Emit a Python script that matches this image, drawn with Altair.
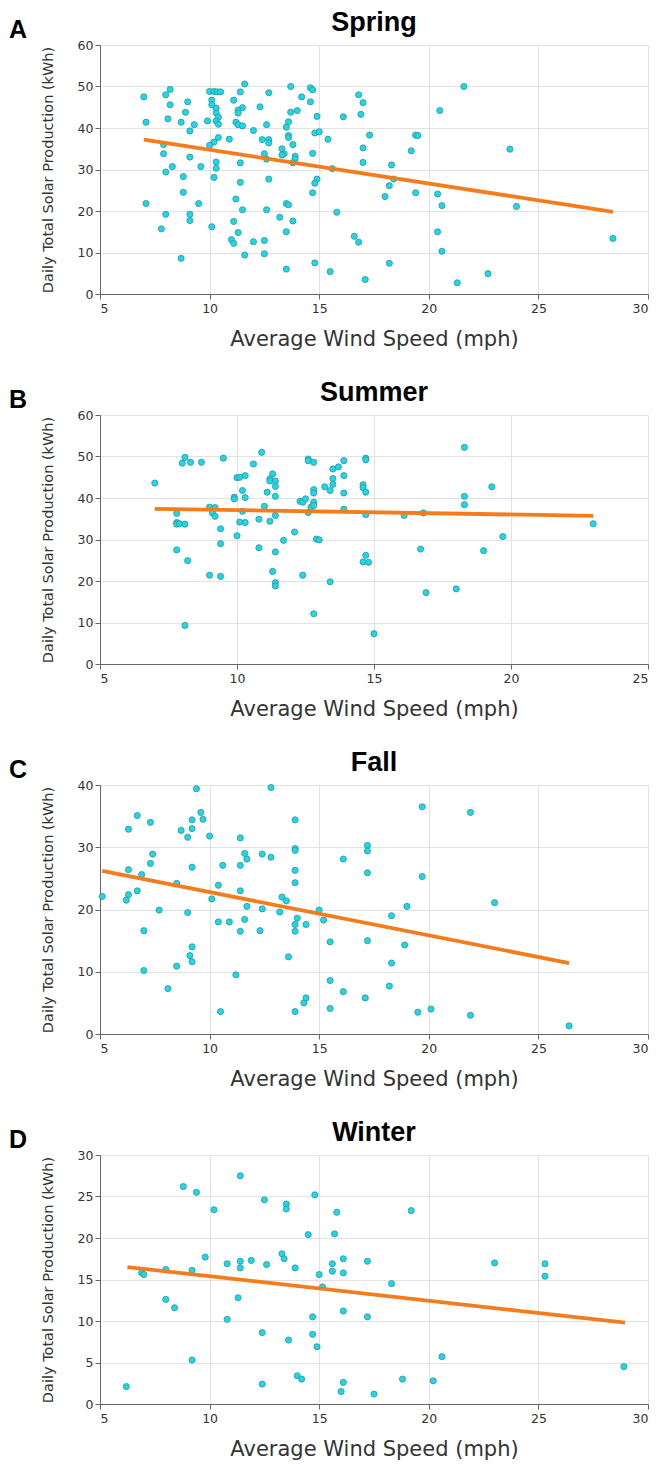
import altair as alt
import pandas as pd

seasons = ["Spring", "Summer", "Fall", "Winter"]
panel_letters = ["A", "B", "C", "D"]

spring_wind = [7.0, 7.1, 7.1, 8.2, 8.0, 8.2, 8.1, 7.9, 7.9, 8.3, 8.0, 8.0, 7.8, 8.7, 9.0, 8.9, 8.7, 9.3, 9.1, 9.1, 8.8, 9.6, 8.8, 9.5, 9.1, 9.1,
               10.0, 10.2, 10.35, 10.5, 10.1, 10.1, 10.3, 10.3, 10.4, 10.3, 9.9, 10.4, 10.4, 10.2, 10.0, 10.3, 10.3, 10.2, 10.1, 10.9,
               11.6, 11.4, 11.1, 11.5, 11.3, 11.3, 11.2, 11.3, 11.5, 11.4, 11.4, 11.2, 11.5, 11.1, 11.3, 11.0, 11.1, 11.6,
               12.0, 12.3, 12.7, 12.4, 12.6, 12.7, 12.7, 12.5, 12.6, 12.7, 12.6, 12.0, 12.5, 12.5, 13.2,
               13.7, 13.7, 14.0, 14.2, 13.6, 13.5, 13.6, 13.6, 13.8, 13.3, 13.4, 13.3, 13.9, 13.9, 13.8, 13.5, 13.6, 13.8, 13.5, 13.5,
               14.6, 14.7, 14.6, 14.9, 14.8, 15.0, 14.7, 14.9, 14.8, 14.7, 14.8, 15.4, 15.6, 15.5, 15.8, 16.1, 16.8, 17.0, 16.9, 17.0, 17.3, 17.0, 16.6, 16.8, 17.1,
               18.3, 18.2, 18.0, 18.4, 18.2, 19.2, 19.4, 19.5, 19.4, 20.5, 20.4, 20.6, 20.4, 20.6, 21.6, 21.3, 22.7, 23.7, 24.0, 28.4]
spring_solar = [47.5, 41.4, 21.8, 49.3, 48.0, 45.6, 42.2, 36.0, 33.8, 30.7, 29.4, 19.2, 15.7, 8.6, 46.3, 43.8, 41.4, 40.8, 39.3, 33.0, 28.3, 30.7, 24.5, 21.8, 19.2, 17.7,
                48.8, 48.8, 48.7, 48.7, 46.7, 45.6, 44.8, 43.6, 42.6, 41.7, 41.7, 40.9, 37.7, 36.6, 35.8, 31.8, 30.3, 28.1, 16.2, 37.3,
                50.6, 48.7, 46.7, 44.9, 44.3, 43.6, 41.4, 40.8, 40.5, 31.6, 26.9, 22.9, 20.3, 17.5, 14.8, 13.1, 12.2, 9.4,
                39.4, 45.1, 48.5, 37.2, 40.8, 37.2, 36.4, 33.8, 32.5, 27.7, 20.3, 12.6, 12.9, 9.7, 18.5,
                50.0, 43.8, 44.2, 47.5, 41.5, 40.2, 38.2, 37.7, 36.0, 35.0, 33.8, 33.5, 33.2, 32.5, 31.6, 21.8, 21.5, 17.6, 15.0, 6.0,
                49.7, 49.2, 46.3, 42.8, 38.8, 39.1, 33.9, 27.7, 26.7, 24.4, 7.5, 37.3, 30.2, 5.4, 19.7, 42.7, 48.0, 46.1, 43.3, 35.2, 38.3, 31.7, 13.9, 12.5, 3.5,
                31.1, 26.1, 23.5, 27.7, 7.4, 34.5, 38.3, 38.2, 24.4, 44.2, 24.1, 21.3, 15.0, 10.3, 50.0, 2.7, 4.9, 34.9, 21.1, 13.4]

summer_wind = [7.0, 8.1, 8.0, 8.3, 8.7, 7.8, 7.8, 7.8, 7.9, 8.1, 7.8, 8.2, 8.1, 9.5, 9.0, 9.2, 9.1, 9.2, 9.4, 9.4, 9.0, 9.4, 9.9, 9.9, 10.0, 10.1, 10.3,
               10.2, 10.3, 10.2, 10.1, 10.3, 10.0, 10.6, 10.9, 11.1, 11.0, 10.8, 11.2, 10.8, 11.3, 11.2, 11.2, 11.4, 11.4, 11.4, 11.4, 11.4, 11.3, 11.4, 11.4,
               11.7, 12.1, 12.3, 12.4, 12.5, 12.7, 12.6, 12.6, 12.6, 12.8, 12.8, 12.8, 12.8, 12.8, 12.9, 13.0, 12.4, 12.8, 13.2, 13.4, 13.5, 13.5, 13.5, 13.7,
               13.9, 13.9, 13.9, 13.9, 13.4, 14.6, 14.6, 14.7, 14.7, 14.7, 14.7, 14.7, 14.6, 14.8, 15.0, 16.1, 16.8, 16.7, 16.9, 18.0, 18.3, 18.3, 18.3,
               19.3, 19.0, 19.7, 23.0]
summer_solar = [43.6, 49.8, 48.4, 48.6, 48.6, 36.3, 34.1, 33.7, 33.8, 33.7, 27.5, 24.9, 9.3, 49.6, 37.8, 37.7, 36.4, 35.6, 32.6, 29.0, 21.4, 21.1, 40.2, 39.8, 44.9, 45.0, 45.4,
                41.8, 40.1, 36.8, 34.2, 34.1, 30.9, 48.2, 51.0, 41.4, 38.0, 34.9, 34.4, 28.0, 45.8, 44.6, 44.1, 44.1, 42.8, 40.4, 35.8, 27.0, 22.3, 19.6, 18.8,
                29.8, 31.8, 39.2, 39.0, 39.8, 37.8, 36.5, 49.4, 49.0, 48.6, 42.0, 41.2, 39.0, 38.2, 30.1, 29.9, 21.4, 12.1, 42.7, 41.8, 43.3, 44.7, 47.0, 47.5,
                49.0, 45.4, 41.2, 37.3, 19.8, 43.2, 42.5, 41.4, 49.6, 49.2, 36.0, 26.2, 24.6, 24.5, 7.3, 35.8, 36.4, 27.7, 17.2, 18.1, 52.2, 40.4, 38.4,
                42.7, 27.3, 30.7, 33.8]

fall_wind = [5.1, 6.3, 6.7, 7.3, 6.3, 6.3, 6.2, 6.7, 6.9, 7.4, 7.3, 7.0, 7.0, 7.7, 8.1, 8.5, 8.5, 8.7, 9.0, 9.2, 9.2, 9.4, 9.6, 9.7, 10.0, 9.2, 9.0, 9.2,
             9.1, 9.2, 10.1, 10.4, 10.6, 10.4, 10.9, 10.5, 11.2, 11.4, 11.6, 11.7, 11.4, 11.4, 11.7, 11.6, 11.4, 12.3, 12.4, 12.8, 12.4, 12.8, 13.3, 13.5,
             13.2, 13.6, 13.9, 13.9, 13.9, 13.9, 13.9, 14.0, 13.9, 13.9, 14.4, 13.9, 14.3, 14.4, 15.0, 15.2, 15.5, 15.5, 15.5, 16.1, 16.1, 17.2, 17.2, 17.2,
             17.2, 17.1, 18.2, 18.3, 18.3, 18.9, 19.0, 19.5, 19.7, 19.7, 20.1, 21.9, 21.9, 23.0, 26.4]
fall_solar = [22.1, 32.9, 35.1, 34.0, 26.4, 22.4, 21.5, 23.0, 25.6, 28.9, 27.4, 16.6, 10.2, 19.9, 7.3, 10.9, 24.2, 32.7, 31.6, 33.0, 34.4, 39.4, 35.6, 34.5, 31.8, 26.8, 19.5, 14.0,
              12.6, 11.6, 21.7, 23.9, 27.1, 18.0, 18.0, 3.6, 9.5, 31.5, 29.0, 28.1, 27.1, 23.0, 20.5, 18.4, 16.5, 16.6, 28.9, 28.4, 20.1, 39.6, 22.0, 21.4,
              19.6, 12.4, 34.4, 29.8, 29.5, 26.3, 24.3, 18.6, 17.6, 16.5, 17.6, 3.6, 5.0, 5.8, 19.9, 18.3, 14.8, 8.6, 4.1, 28.1, 6.8, 30.3, 29.4, 25.9,
              15.0, 5.8, 7.7, 19.0, 11.4, 14.3, 20.5, 3.5, 36.5, 25.3, 4.0, 35.6, 3.0, 21.1, 1.3]

winter_wind = [6.2, 6.9, 7.0, 8.0, 8.0, 8.4, 8.8, 9.4, 9.2, 9.2, 9.8, 10.2, 10.8, 10.8, 11.4, 11.4, 11.4, 11.3, 11.9, 12.5, 12.6, 12.4, 12.4, 13.3,
               13.4, 13.5, 13.5, 13.9, 13.6, 14.0, 14.2, 14.5, 14.8, 15.0, 15.15, 14.7, 14.7, 14.9, 15.8, 15.7, 15.6, 15.6, 16.1, 16.1, 16.1, 16.1, 16.0,
               17.2, 17.2, 17.5, 18.3, 18.8, 19.2, 20.2, 20.6, 23.0, 25.3, 25.3, 28.9]
winter_solar = [2.1, 15.8, 15.6, 16.2, 12.6, 11.6, 26.2, 25.5, 16.1, 5.3, 17.7, 23.4, 16.9, 10.2, 27.5, 17.2, 16.4, 12.8, 17.3, 24.6, 16.8, 8.6, 2.4, 18.1,
                17.5, 24.1, 23.5, 16.4, 7.7, 3.4, 3.0, 20.4, 25.2, 15.6, 14.1, 10.5, 8.4, 6.9, 23.1, 20.5, 16.9, 16.0, 17.5, 15.8, 11.2, 2.6, 1.5,
                17.2, 10.5, 1.2, 14.5, 3.0, 23.3, 2.8, 5.7, 17.0, 16.9, 15.4, 4.5]

# fitted trend line end points
fit_wind = {"Spring": [7.0, 28.4], "Summer": [7.0, 23.0], "Fall": [5.1, 26.4], "Winter": [6.25, 28.95]}
fit_solar = {"Spring": [37.2, 19.8], "Summer": [37.4, 35.7], "Fall": [26.2, 11.4], "Winter": [16.5, 9.8]}

x_domains = {"Spring": [5, 30], "Summer": [5, 25], "Fall": [5, 30], "Winter": [5, 30]}
y_domains = {"Spring": [0, 60], "Summer": [0, 60], "Fall": [0, 40], "Winter": [0, 30]}
x_ticks = {"Spring": [5, 10, 15, 20, 25, 30], "Summer": [5, 10, 15, 20, 25],
           "Fall": [5, 10, 15, 20, 25, 30], "Winter": [5, 10, 15, 20, 25, 30]}
y_ticks = {"Spring": [0, 10, 20, 30, 40, 50, 60], "Summer": [0, 10, 20, 30, 40, 50, 60],
           "Fall": [0, 10, 20, 30, 40], "Winter": [0, 5, 10, 15, 20, 25, 30]}

series = {
    "Spring": (spring_wind, spring_solar),
    "Summer": (summer_wind, summer_solar),
    "Fall": (fall_wind, fall_solar),
    "Winter": (winter_wind, winter_solar),
}

X_TITLE = "Average Wind Speed (mph)"
Y_TITLE = "Daily Total Solar Production (kWh)"
PW, PH = 548, 249


def panel(season, letter):
    w, s = series[season]
    df = pd.DataFrame({"wind": w, "solar": s})
    fit = pd.DataFrame({"wind": fit_wind[season], "solar": fit_solar[season]})
    xs = alt.Scale(domain=x_domains[season], nice=False, zero=False)
    ys = alt.Scale(domain=y_domains[season], nice=False)
    xax = alt.Axis(values=x_ticks[season], title=X_TITLE)
    yax = alt.Axis(values=y_ticks[season], title=Y_TITLE)
    pts = alt.Chart(df).mark_point(
        filled=True, size=38, fill="#18dbea", stroke="#3a8e98", strokeWidth=0.8, opacity=1
    ).encode(
        x=alt.X("wind:Q", scale=xs, axis=xax),
        y=alt.Y("solar:Q", scale=ys, axis=yax),
    )
    line = alt.Chart(fit).mark_line(color="#f47c1c", strokeWidth=3.8).encode(
        x=alt.X("wind:Q", scale=xs),
        y=alt.Y("solar:Q", scale=ys),
    )
    lab = alt.Chart(pd.DataFrame({"t": [letter]})).mark_text(
        font="Liberation Sans", fontWeight="bold", fontSize=25, align="center",
        baseline="alphabetic", color="#000"
    ).encode(text="t:N", x=alt.value(-82), y=alt.value(-7))
    ttl = alt.Chart(pd.DataFrame({"t": [season]})).mark_text(
        font="Liberation Sans", fontWeight="bold", fontSize=27, align="center",
        baseline="alphabetic", color="#000"
    ).encode(text="t:N", x=alt.value(PW / 2), y=alt.value(-14))
    return alt.layer(pts, line, lab, ttl).properties(width=PW, height=PH)


chart = alt.vconcat(
    *[panel(s, l) for s, l in zip(seasons, panel_letters)],
    spacing=121, bounds="flush",
).properties(
    padding={"left": 0, "top": 1, "right": 0, "bottom": 0}
).configure_view(stroke=None).configure_axis(
    grid=True, gridColor="#e2e2e2", gridWidth=1,
    domainColor="#666666", tickColor="#666666", tickSize=5,
    labelFont="DejaVu Sans", labelFontSize=12.5, labelColor="#333333", labelPadding=2,
    titleFont="DejaVu Sans", titleColor="#333333", titleFontWeight="normal",
).configure_axisX(
    titleFontSize=21, titlePadding=14, labelPadding=3,
).configure_axisY(
    titleFontSize=14.5, titlePadding=22,
)

chart.save("out.html", embed_options={"renderer": "svg", "actions": False})
